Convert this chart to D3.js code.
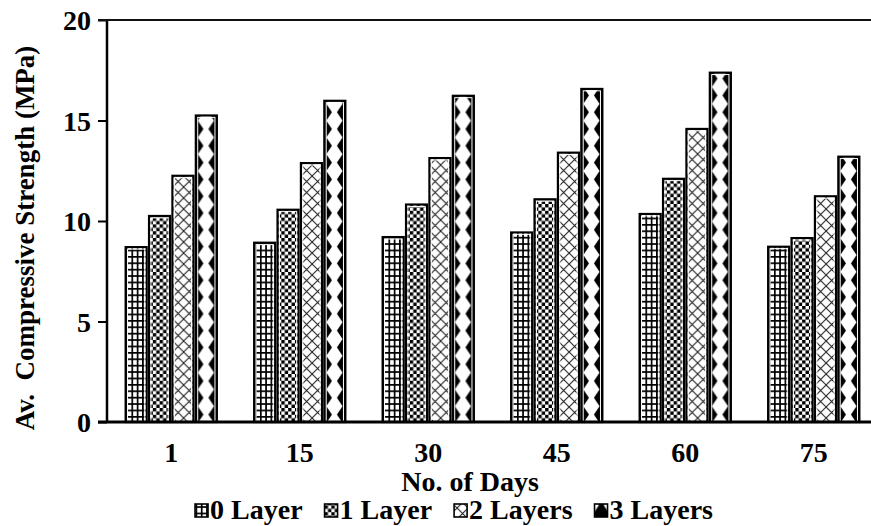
<!DOCTYPE html>
<html>
<head>
<meta charset="utf-8">
<script src="https://cdn.jsdelivr.net/npm/d3@7"></script>
<style>
  html, body { margin: 0; padding: 0; background: #fff; }
  svg { display: block; }
  text { font-family: "Liberation Serif", "Times New Roman", serif; font-weight: bold; fill: #000; }
</style>
</head>
<body>
<svg id="chart" width="871" height="526"></svg>
<script>
// ---- data ----
const days = ["1", "15", "30", "45", "60", "75"];
const seriesNames = ["0 Layer", "1 Layer", "2 Layers", "3 Layers"];
const layer0 = [8.70, 8.92, 9.20, 9.43, 10.35, 8.72];
const layer1 = [10.25, 10.56, 10.82, 11.08, 12.10, 9.15];
const layer2 = [12.25, 12.88, 13.13, 13.40, 14.58, 11.23];
const layer3 = [15.25, 15.98, 16.23, 16.57, 17.38, 13.20];
const yTicks = [0, 5, 10, 15, 20];

const seriesValues = [layer0, layer1, layer2, layer3];

const svg = d3.select("#chart");
const W = 871, H = 526;
const plot = { left: 107, right: 878, top: 20, bottom: 422 };
const FS = 28;

// ---- patterns ----
const defs = svg.append("defs");
// grid
const gw = 5.3, gh = 6.4;
const pGrid = defs.append("pattern").attr("id", "pat0").attr("patternUnits", "userSpaceOnUse")
  .attr("width", gw).attr("height", gh).attr("x", 0.5).attr("y", 0);
pGrid.append("rect").attr("width", gw).attr("height", gh).attr("fill", "#fff");
pGrid.append("rect").attr("width", 1.7).attr("height", gh).attr("fill", "#000");
pGrid.append("rect").attr("width", gw).attr("height", 1.7).attr("fill", "#000");
// checker
const cs = 3.4;
const pChk = defs.append("pattern").attr("id", "pat1").attr("patternUnits", "userSpaceOnUse")
  .attr("width", cs * 2).attr("height", cs * 2);
pChk.append("rect").attr("width", cs * 2).attr("height", cs * 2).attr("fill", "#fff");
pChk.append("rect").attr("width", cs).attr("height", cs).attr("fill", "#000");
pChk.append("rect").attr("x", cs).attr("y", cs).attr("width", cs).attr("height", cs).attr("fill", "#000");
// outlined diamond (diagonal cross-hatch)
const dd = 11;
const pDia = defs.append("pattern").attr("id", "pat2").attr("patternUnits", "userSpaceOnUse")
  .attr("width", dd).attr("height", dd).attr("x", 3);
pDia.append("rect").attr("width", dd).attr("height", dd).attr("fill", "#fff");
pDia.append("path").attr("d", `M0,0L${dd},${dd}M${dd},0L0,${dd}`)
  .attr("stroke", "#222").attr("stroke-width", 1.1).attr("fill", "none");
// chained solid diamonds
const sw = 21, sh = 16.8, hw = 8, nw = 2.4;
const pSol = defs.append("pattern").attr("id", "pat3").attr("patternUnits", "userSpaceOnUse")
  .attr("width", sw).attr("height", sh).attr("x", 6.8).attr("y", 3);
pSol.append("rect").attr("width", sw).attr("height", sh).attr("fill", "#fff");
[0, sw].forEach(cx => {
  pSol.append("path")
    .attr("d", `M${cx - nw},0L${cx - hw},${sh / 2}L${cx - nw},${sh}L${cx + nw},${sh}L${cx + hw},${sh / 2}L${cx + nw},0Z`)
    .attr("fill", "#000");
});

// ---- scales ----
const x0 = d3.scaleBand().domain(days).range([plot.left, plot.right])
  .paddingInner(0.29).paddingOuter(0.145);
const x1 = d3.scaleBand().domain(seriesNames).range([0, x0.bandwidth()]).paddingInner(0.1);
const y = d3.scaleLinear().domain([0, 20]).range([plot.bottom, plot.top]);

// ---- bars ----
const groups = svg.append("g").selectAll("g").data(days).join("g")
  .attr("transform", d => `translate(${x0(d)},0)`);
const barData = (d, i) => seriesNames.map((s, k) => ({ s, k, v: seriesValues[k][i] }));
groups.selectAll("rect.bar").data(barData).join("rect").attr("class", "bar")
  .attr("x", d => x1(d.s))
  .attr("y", d => y(d.v))
  .attr("width", x1.bandwidth())
  .attr("height", d => y(0) - y(d.v))
  .attr("fill", d => `url(#pat${d.k})`)
  .attr("stroke", "#000")
  .attr("stroke-width", 2.2);
groups.selectAll("rect.inner").data(barData).join("rect").attr("class", "inner")
  .attr("x", d => x1(d.s) + 1.9)
  .attr("y", d => y(d.v) + 1.9)
  .attr("width", x1.bandwidth() - 3.8)
  .attr("height", d => y(0) - y(d.v) - 1.9)
  .attr("fill", "none")
  .attr("stroke", "#fff")
  .attr("stroke-width", 1);

// ---- axes ----
const yAxis = d3.axisLeft(y).tickValues(yTicks).tickSize(9).tickPadding(7).tickFormat(d3.format("d"));
const gy = svg.append("g").attr("transform", `translate(${plot.left},0)`).call(yAxis);
gy.select(".domain").remove();
gy.selectAll(".tick line").attr("stroke", "#000").attr("stroke-width", 2);
gy.selectAll(".tick text").style("font-size", FS + "px").attr("dy", "0.35em");

svg.append("line").attr("x1", plot.left).attr("x2", plot.left)
  .attr("y1", plot.top).attr("y2", plot.bottom).attr("stroke", "#000").attr("stroke-width", 2.5);
svg.append("line").attr("x1", plot.left - 9).attr("x2", W)
  .attr("y1", plot.top).attr("y2", plot.top).attr("stroke", "#111").attr("stroke-width", 2.2);
svg.append("line").attr("x1", plot.left - 9).attr("x2", W)
  .attr("y1", plot.bottom).attr("y2", plot.bottom).attr("stroke", "#000").attr("stroke-width", 3);

// x tick labels
const xAxis = d3.axisBottom(x0).tickSize(0).tickPadding(20);
const gx = svg.append("g").attr("transform", `translate(0,${plot.bottom})`).call(xAxis);
gx.select(".domain").remove();
gx.selectAll(".tick text").style("font-size", FS + "px");

// axis titles
svg.append("text").attr("x", 470).attr("y", 491)
  .attr("text-anchor", "middle").style("font-size", FS + "px").text("No. of Days");
svg.append("text")
  .attr("transform", `translate(34,238) rotate(-90)`)
  .attr("text-anchor", "middle").style("font-size", "27px").style("white-space", "pre")
  .text("Av.  Compressive Strength (MPa)");

// legend
const legend = svg.append("g");
let lx = 0;
seriesNames.forEach((s, k) => {
  const g = legend.append("g").attr("transform", `translate(${lx},0)`);
  g.append("rect").attr("x", 0).attr("y", -15).attr("width", 13).attr("height", 13)
    .attr("fill", `url(#pat${k})`).attr("stroke", "#000").attr("stroke-width", 1.6);
  const t = g.append("text").attr("x", 15).attr("y", 0).style("font-size", FS + "px").text(s);
  lx += 15 + t.node().getComputedTextLength() + 22;
});
const lw = lx - 22;
legend.attr("transform", `translate(${454 - lw / 2},519)`);
</script>
</body>
</html>
